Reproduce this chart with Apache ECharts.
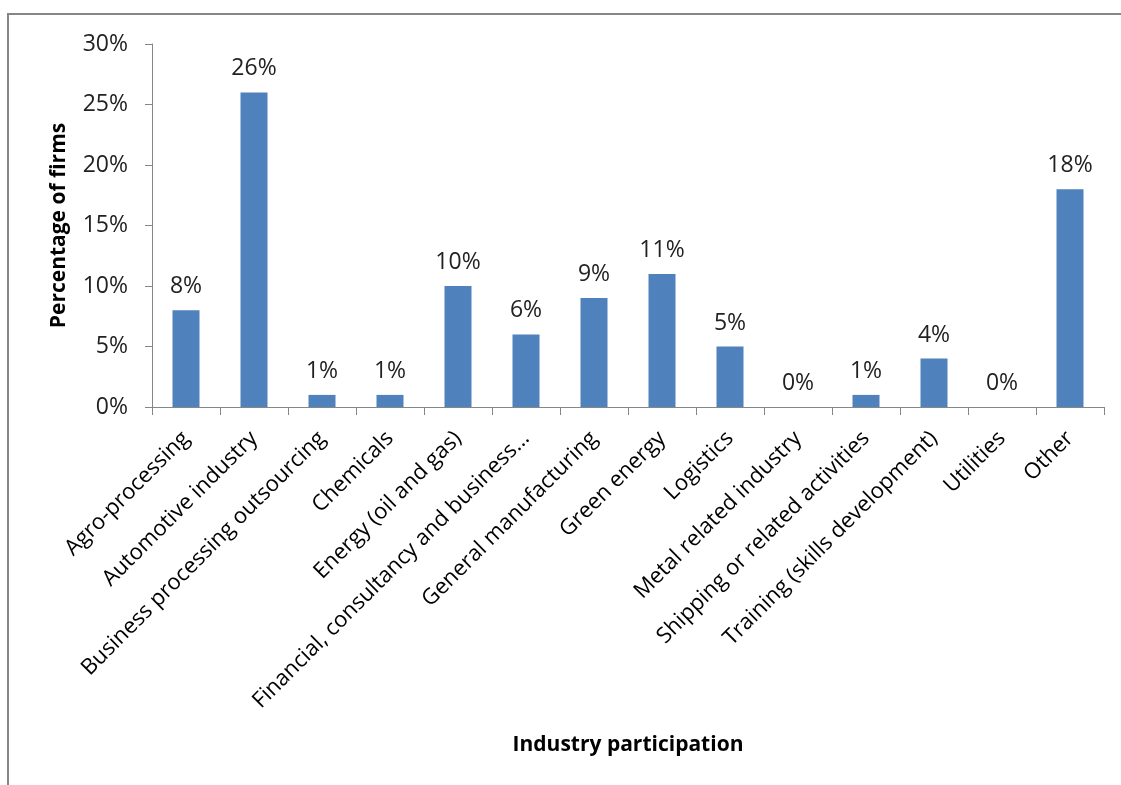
<!DOCTYPE html>
<html>
<head>
<meta charset="utf-8">
<script src="https://cdn.jsdelivr.net/npm/echarts@6/dist/echarts.min.js"></script>
<style>
  html, body { margin: 0; padding: 0; background: #fff; }
  #chart { width: 1121px; height: 785px; }
</style>
</head>
<body>
<div id="chart"></div>
<script>
// Share of firms by industry participation
const categories = [
  'Agro-processing',
  'Automotive industry',
  'Business processing outsourcing',
  'Chemicals',
  'Energy (oil and gas)',
  'Financial, consultancy and business...',
  'General manufacturing',
  'Green energy',
  'Logistics',
  'Metal related industry',
  'Shipping or related activities',
  'Training (skills development)',
  'Utilities',
  'Other'
];
const shares = [8, 26, 1, 1, 10, 6, 9, 11, 5, 0, 1, 4, 0, 18];
const yTicks = [0, 5, 10, 15, 20, 25, 30];

const FONT = '"Open Sans", "Noto Sans", sans-serif';
const chart = echarts.init(document.getElementById('chart'));

chart.setOption({
  animation: false,
  backgroundColor: '#ffffff',
  graphic: [{
    type: 'rect',
    shape: { x: 8, y: 14, width: 1140, height: 800 },
    style: { fill: 'none', stroke: '#868686', lineWidth: 2 },
    silent: true
  }],
  grid: { left: 152, top: 44, right: 17, bottom: 378 },
  xAxis: {
    type: 'category',
    data: categories,
    name: 'Industry participation',
    nameLocation: 'middle',
    nameGap: 328,
    nameTextStyle: { fontFamily: FONT, fontSize: 21, fontWeight: 'bold', color: '#000' },
    axisLine: { lineStyle: { color: '#868686', width: 1 } },
    axisTick: { show: true, alignWithLabel: false, length: 8, lineStyle: { color: '#868686' } },
    axisLabel: {
      interval: 0,
      rotate: 45,
      margin: 28,
      fontFamily: FONT,
      fontSize: 22,
      color: '#000'
    }
  },
  yAxis: {
    type: 'value',
    min: yTicks[0],
    max: yTicks[yTicks.length - 1],
    interval: 5,
    name: 'Percentage of firms',
    nameLocation: 'middle',
    nameGap: 82,
    nameRotate: 90,
    nameTextStyle: { fontFamily: FONT, fontSize: 21, fontWeight: 'bold', color: '#000' },
    axisLine: { show: true, lineStyle: { color: '#868686', width: 1 } },
    axisTick: { show: true, length: 7, lineStyle: { color: '#868686' } },
    splitLine: { show: false },
    axisLabel: {
      margin: 24,
      fontFamily: FONT,
      fontSize: 23,
      color: '#222',
      formatter: v => v + '%'
    }
  },
  series: [{
    type: 'bar',
    data: shares,
    barWidth: 27,
    itemStyle: { color: '#4f81bd' },
    label: {
      show: true,
      position: 'top',
      distance: 12,
      fontFamily: FONT,
      fontSize: 23,
      color: '#222',
      formatter: p => p.value + '%'
    }
  }]
});
</script>
</body>
</html>
